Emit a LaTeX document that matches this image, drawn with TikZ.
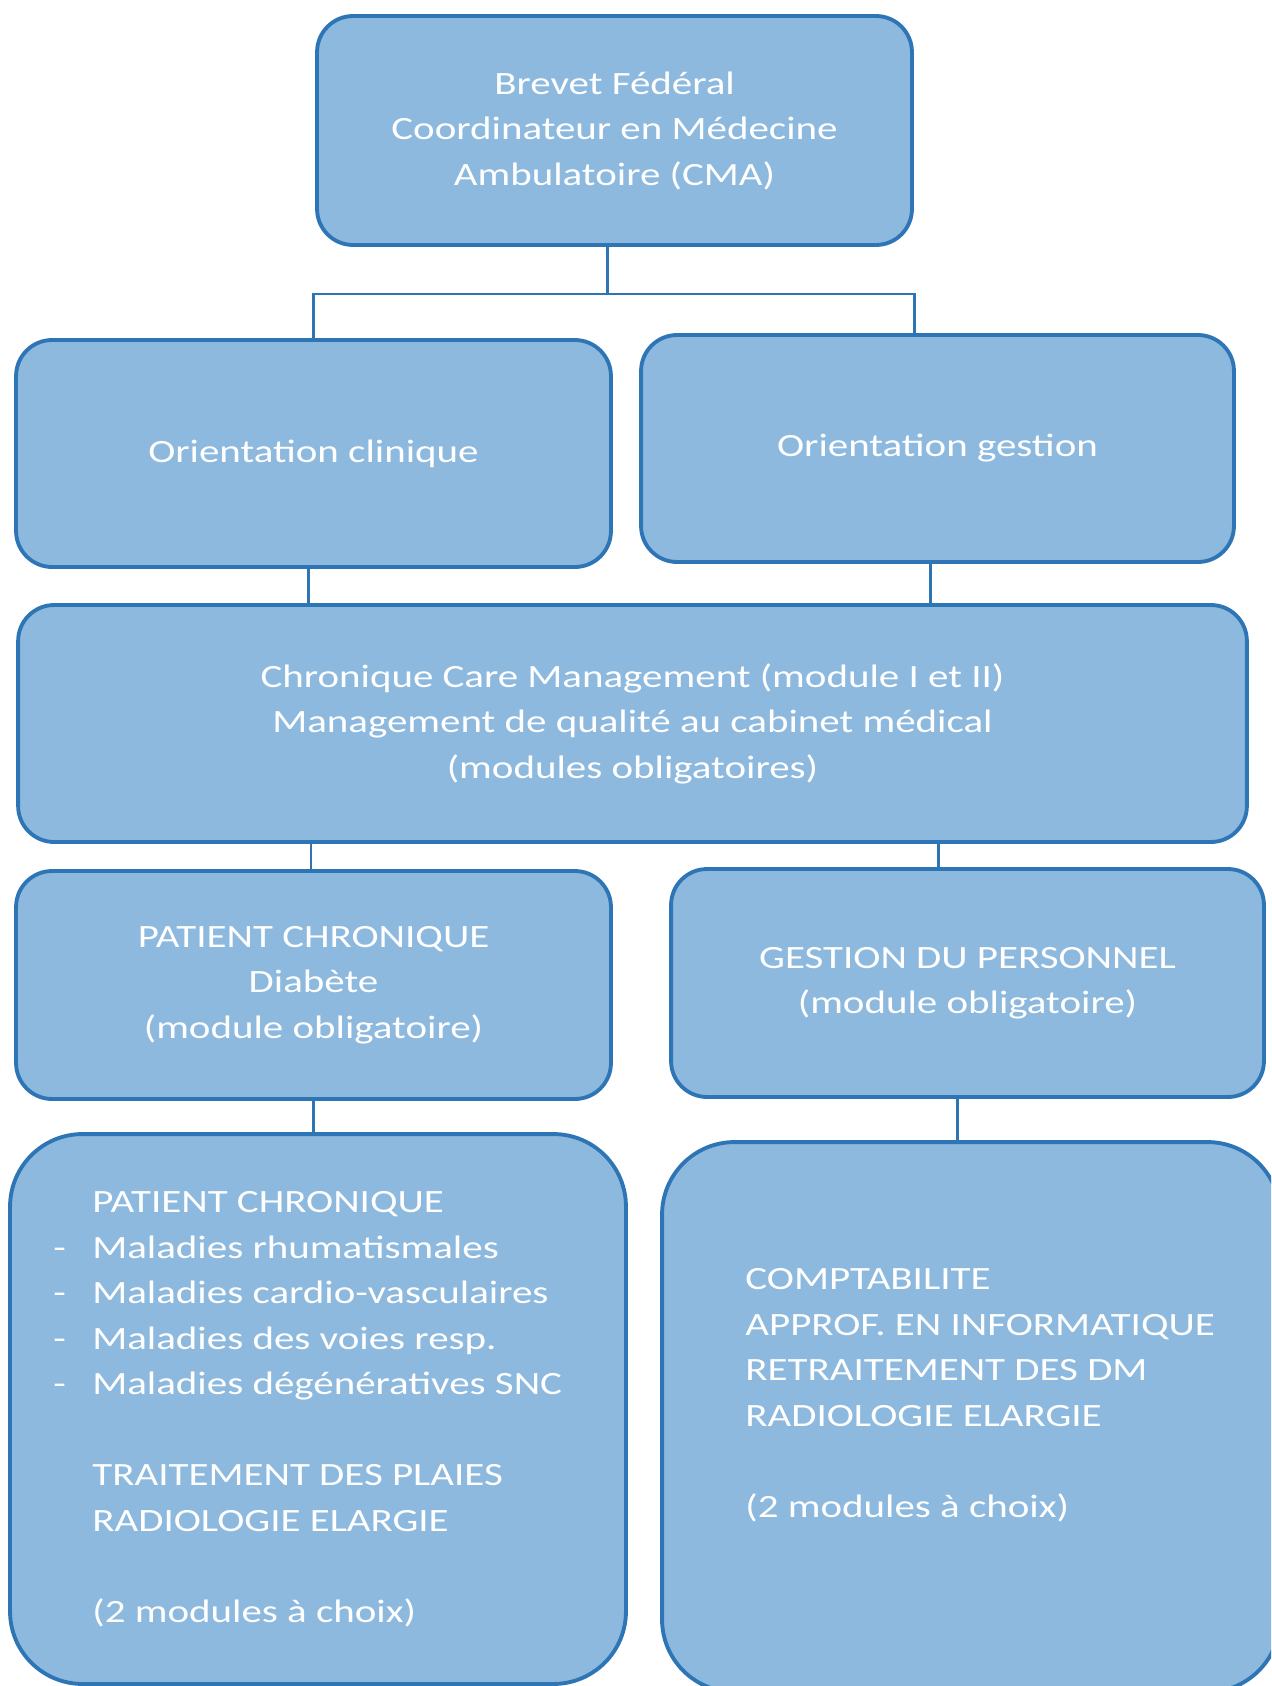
\documentclass[tikz,border=0pt]{standalone}
\usepackage{fontspec}
\setmainfont{Carlito}[FakeStretch=1.26]
\definecolor{fond}{RGB}{141,185,223}
\definecolor{bord}{RGB}{46,117,182}
\newcommand{\tiret}{\makebox[0.78cm][l]{-}}
\newcommand{\retrait}{\hspace*{0.78cm}}
\begin{document}
\begin{tikzpicture}[x=0.02cm, y=-0.02cm,
    boite/.style={draw=bord, line width=2.2pt, fill=fond, rounded corners=0.72cm,
      inner sep=0pt, outer sep=0pt, text=white, align=center,
      font=\fontsize{18.5}{25.9}\selectfont},
    texte/.style={text=white, align=left, inner sep=0pt,
      font=\fontsize{18.5}{25.9}\selectfont},
    lien/.style={draw=bord, line width=1.7pt}]
  \useasboundingbox (0,0) rectangle (1271,1686);
  \clip (0,0) rectangle (1271,1686);

  \node[boite, minimum width=11.9cm, minimum height=4.58cm] (brevet) at (614.5,130.5)
    {Brevet Fédéral\\Coordinateur en Médecine\\Ambulatoire (CMA)};
  \node[boite, minimum width=11.9cm, minimum height=4.54cm] (clin) at (313.5,453.5)
    {Orientation clinique};
  \node[boite, minimum width=11.86cm, minimum height=4.54cm] (gest) at (937.5,448.5)
    {Orientation gestion};
  \node[boite, minimum width=24.58cm, minimum height=4.74cm] (socle) at (632.5,723.5)
    {Chronique Care Management (module I et II)\\Management de qualité au cabinet médical\\(modules obligatoires)};
  \node[boite, minimum width=11.9cm, minimum height=4.56cm] (diabete) at (313.5,985)
    {PATIENT CHRONIQUE\\Diabète\\(module obligatoire)};
  \node[boite, minimum width=11.86cm, minimum height=4.56cm] (personnel) at (967.5,983)
    {GESTION DU PERSONNEL\\(module obligatoire)};
  \node[boite, rounded corners=1.45cm, minimum width=12.32cm, minimum height=11cm] (choixc) at (318,1409) {};
  \node[boite, rounded corners=1.45cm, minimum width=12.36cm, minimum height=11cm] (choixg) at (971,1417) {};

  \node[texte, anchor=west] (listec) at ([xshift=0.86cm]choixc.west)
    {\retrait PATIENT CHRONIQUE\\
     \tiret Maladies rhumatismales\\
     \tiret Maladies cardio-vasculaires\\
     \tiret Maladies des voies resp.\\
     \tiret Maladies dégénératives SNC\\[25.9pt]
     \retrait TRAITEMENT DES PLAIES\\
     \retrait RADIOLOGIE ELARGIE\\[25.9pt]
     \retrait (2 modules à choix)};
  \node[texte, anchor=west] (listeg) at ([xshift=1.66cm, yshift=0.44cm]choixg.west)
    {COMPTABILITE\\
     APPROF. EN INFORMATIQUE\\
     RETRAITEMENT DES DM\\
     RADIOLOGIE ELARGIE\\[25.9pt]
     (2 modules à choix)};

  \coordinate (fourche) at (607.5,294);
  \draw[lien] (brevet.south -| fourche) -- (fourche);
  \draw[lien] (clin.north) |- (fourche) -| ([xshift=-0.47cm]gest.north);
  \draw[lien] ([xshift=-0.1cm]clin.south) -- ([xshift=-0.1cm]clin.south |- socle.north);
  \draw[lien] ([xshift=-0.15cm]gest.south) -- ([xshift=-0.15cm]gest.south |- socle.north);
  \draw[lien] ([xshift=-0.05cm]diabete.north) -- ([xshift=-0.05cm]diabete.north |- socle.south);
  \draw[lien] ([xshift=-0.58cm]personnel.north) -- ([xshift=-0.58cm]personnel.north |- socle.south);
  \draw[lien] (diabete.south) -- (diabete.south |- choixc.north);
  \draw[lien] ([xshift=-0.21cm]personnel.south) -- ([xshift=-0.21cm]personnel.south |- choixg.north);

\end{tikzpicture}
\end{document}
